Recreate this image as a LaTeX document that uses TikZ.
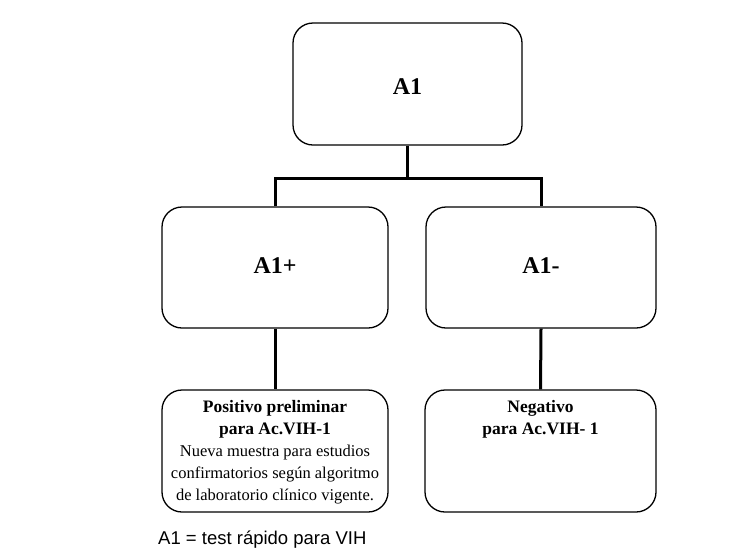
\documentclass[tikz,border=0pt]{standalone}
\usepackage{fontspec}
\setmainfont{Liberation Serif}
\newfontfamily\capfont{Liberation Sans}
\begin{document}
\begin{tikzpicture}[x=1pt,y=-1pt,
  rbox/.style={draw=black, line width=1.3pt, rounded corners=20pt, inner sep=0pt},
  conn/.style={draw=black, line width=3pt},
  biglabel/.style={font=\fontsize{24}{28}\selectfont\bfseries},
  boxtext/.style={align=center, anchor=north, inner sep=0pt, font=\fontsize{16.5}{22}\selectfont}]
\useasboundingbox (0,0) rectangle (751,558);
\node[rbox, minimum width=229pt, minimum height=122pt] (top) at (407.5,84) {};
\node[biglabel] (toplbl) at (407.5,87) {A1};
\node[rbox, minimum width=226pt, minimum height=121pt] (ap) at (275,267.5) {};
\node[biglabel] (aplbl) at (275,266) {A1+};
\node[rbox, minimum width=230pt, minimum height=121pt] (am) at (541,267.5) {};
\node[biglabel] (amlbl) at (541,266) {A1-};
\node[rbox, minimum width=226pt, minimum height=122pt] (bl) at (275,451) {};
\node[rbox, minimum width=231pt, minimum height=122pt] (br) at (540.5,451) {};
\node[boxtext] (bltxt) at ([yshift=-11pt]bl.north) {{\fontsize{17.5}{22}\selectfont\bfseries Positivo preliminar}\\{\fontsize{17.5}{22}\selectfont\bfseries para Ac.VIH-1}\\Nueva muestra para estudios\\confirmatorios según algoritmo\\de laboratorio clínico vigente.};
\node[boxtext, font=\fontsize{17.5}{22}\selectfont\bfseries] (brtxt) at ([yshift=-11pt]br.north) {Negativo\\para Ac.VIH- 1};
\coordinate (j) at (407.5,178);
\draw[conn] (top.south) -- (j);
\draw[conn] (ap.north) |- (j) -| (am.north);
\draw[conn] (ap.south) -- (bl.north);
\draw[conn] (am.south) -- (br.north);
\node[anchor=base west, inner sep=0pt, font=\capfont\fontsize{18.5}{22}\selectfont] (cap) at (158,544) {A1 = test rápido para VIH};
\end{tikzpicture}
\end{document}
